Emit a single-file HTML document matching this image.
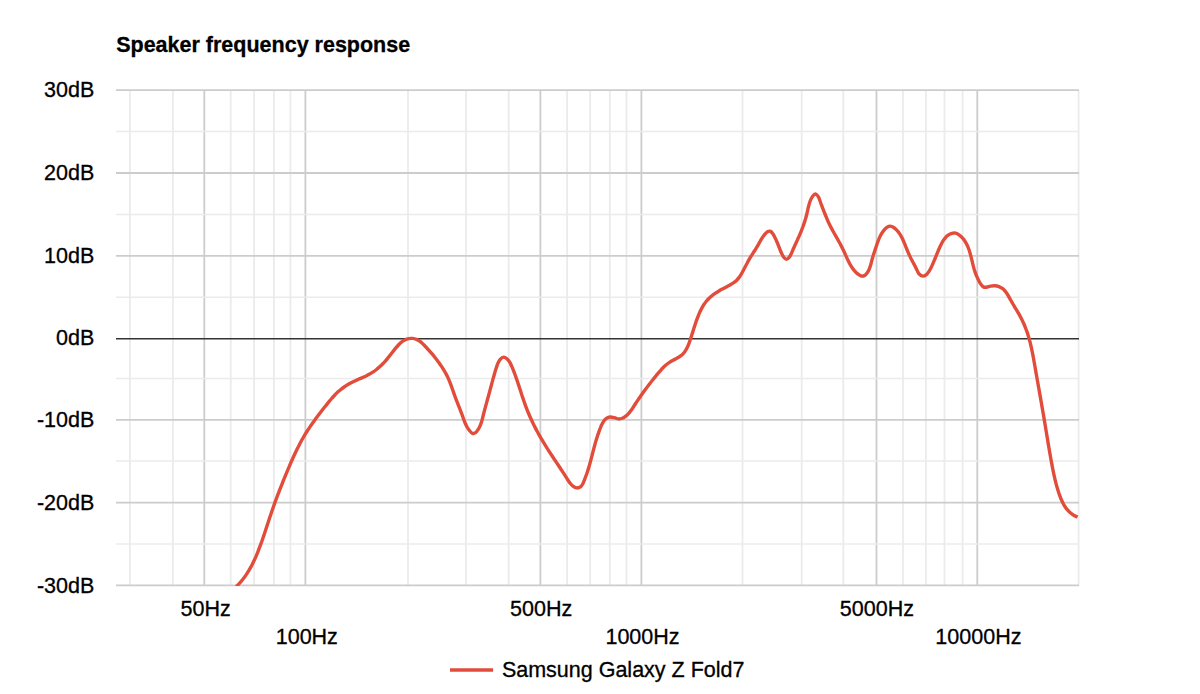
<!DOCTYPE html>
<html><head><meta charset="utf-8"><title>Speaker frequency response</title>
<style>html,body{margin:0;padding:0;background:#fff}body{width:1200px;height:694px;overflow:hidden}svg{display:block}text{font-family:"Liberation Sans",sans-serif;fill:#000;stroke:#000;stroke-width:0.3px}</style></head><body>
<svg width="1200" height="694" viewBox="0 0 1200 694">
<rect width="1200" height="694" fill="#ffffff"/>
<defs><clipPath id="cp"><rect x="115.0" y="89.1" width="964.6" height="496.9"/></clipPath></defs>
<g><line x1="129.90" y1="90.10" x2="129.90" y2="585.40" stroke="#ebebeb" stroke-width="1.80"/>
<line x1="172.90" y1="90.10" x2="172.90" y2="585.40" stroke="#ebebeb" stroke-width="1.80"/>
<line x1="230.70" y1="90.10" x2="230.70" y2="585.40" stroke="#ebebeb" stroke-width="1.80"/>
<line x1="254.10" y1="90.10" x2="254.10" y2="585.40" stroke="#ebebeb" stroke-width="1.80"/>
<line x1="273.90" y1="90.10" x2="273.90" y2="585.40" stroke="#ebebeb" stroke-width="1.80"/>
<line x1="290.40" y1="90.10" x2="290.40" y2="585.40" stroke="#ebebeb" stroke-width="1.80"/>
<line x1="408.00" y1="90.10" x2="408.00" y2="585.40" stroke="#ebebeb" stroke-width="1.80"/>
<line x1="466.00" y1="90.10" x2="466.00" y2="585.40" stroke="#ebebeb" stroke-width="1.80"/>
<line x1="508.70" y1="90.10" x2="508.70" y2="585.40" stroke="#ebebeb" stroke-width="1.80"/>
<line x1="567.10" y1="90.10" x2="567.10" y2="585.40" stroke="#ebebeb" stroke-width="1.80"/>
<line x1="590.20" y1="90.10" x2="590.20" y2="585.40" stroke="#ebebeb" stroke-width="1.80"/>
<line x1="609.80" y1="90.10" x2="609.80" y2="585.40" stroke="#ebebeb" stroke-width="1.80"/>
<line x1="626.50" y1="90.10" x2="626.50" y2="585.40" stroke="#ebebeb" stroke-width="1.80"/>
<line x1="742.50" y1="90.10" x2="742.50" y2="585.40" stroke="#ebebeb" stroke-width="1.80"/>
<line x1="801.70" y1="90.10" x2="801.70" y2="585.40" stroke="#ebebeb" stroke-width="1.80"/>
<line x1="843.30" y1="90.10" x2="843.30" y2="585.40" stroke="#ebebeb" stroke-width="1.80"/>
<line x1="903.00" y1="90.10" x2="903.00" y2="585.40" stroke="#ebebeb" stroke-width="1.80"/>
<line x1="925.90" y1="90.10" x2="925.90" y2="585.40" stroke="#ebebeb" stroke-width="1.80"/>
<line x1="944.50" y1="90.10" x2="944.50" y2="585.40" stroke="#ebebeb" stroke-width="1.80"/>
<line x1="962.60" y1="90.10" x2="962.60" y2="585.40" stroke="#ebebeb" stroke-width="1.80"/>
<line x1="1078.60" y1="90.10" x2="1078.60" y2="585.40" stroke="#ebebeb" stroke-width="1.80"/>
<line x1="204.30" y1="90.10" x2="204.30" y2="585.40" stroke="#cccccc" stroke-width="1.80"/>
<line x1="305.40" y1="90.10" x2="305.40" y2="585.40" stroke="#cccccc" stroke-width="1.80"/>
<line x1="540.40" y1="90.10" x2="540.40" y2="585.40" stroke="#cccccc" stroke-width="1.80"/>
<line x1="641.40" y1="90.10" x2="641.40" y2="585.40" stroke="#cccccc" stroke-width="1.80"/>
<line x1="876.50" y1="90.10" x2="876.50" y2="585.40" stroke="#cccccc" stroke-width="1.80"/>
<line x1="977.30" y1="90.10" x2="977.30" y2="585.40" stroke="#cccccc" stroke-width="1.80"/>
<line x1="116.00" y1="90.10" x2="1079.00" y2="90.10" stroke="#cccccc" stroke-width="1.80"/>
<line x1="116.00" y1="173.00" x2="1079.00" y2="173.00" stroke="#cccccc" stroke-width="1.80"/>
<line x1="116.00" y1="255.90" x2="1079.00" y2="255.90" stroke="#cccccc" stroke-width="1.80"/>
<line x1="116.00" y1="419.90" x2="1079.00" y2="419.90" stroke="#cccccc" stroke-width="1.80"/>
<line x1="116.00" y1="502.60" x2="1079.00" y2="502.60" stroke="#cccccc" stroke-width="1.80"/>
<line x1="116.00" y1="585.40" x2="1079.00" y2="585.40" stroke="#cccccc" stroke-width="1.80"/>
<line x1="116.00" y1="131.60" x2="1079.00" y2="131.60" stroke="#ebebeb" stroke-width="1.50"/>
<line x1="116.00" y1="214.50" x2="1079.00" y2="214.50" stroke="#ebebeb" stroke-width="1.50"/>
<line x1="116.00" y1="297.30" x2="1079.00" y2="297.30" stroke="#ebebeb" stroke-width="1.50"/>
<line x1="116.00" y1="378.45" x2="1079.00" y2="378.45" stroke="#ebebeb" stroke-width="1.50"/>
<line x1="116.00" y1="461.10" x2="1079.00" y2="461.10" stroke="#ebebeb" stroke-width="1.50"/>
<line x1="116.00" y1="543.90" x2="1079.00" y2="543.90" stroke="#ebebeb" stroke-width="1.50"/>
<line x1="116.00" y1="338.80" x2="1079.00" y2="338.80" stroke="#333333" stroke-width="1.60"/></g>
<g clip-path="url(#cp)"><path d="M236.24,586.59C236.73,586.09 238.23,584.63 239.17,583.62C240.12,582.60 241.02,581.56 241.89,580.50C242.77,579.44 243.60,578.36 244.41,577.26C245.22,576.16 246.00,575.04 246.75,573.91C247.50,572.77 248.22,571.62 248.92,570.45C249.62,569.28 250.29,568.10 250.94,566.90C251.59,565.70 252.21,564.49 252.82,563.27C253.43,562.05 254.01,560.81 254.58,559.57C255.15,558.33 255.70,557.07 256.24,555.82C256.77,554.56 257.29,553.29 257.80,552.02C258.31,550.74 258.81,549.46 259.29,548.18C259.78,546.90 260.26,545.62 260.72,544.33C261.19,543.04 261.65,541.75 262.11,540.46C262.56,539.17 263.00,537.87 263.45,536.58C263.89,535.28 264.32,533.98 264.76,532.69C265.19,531.39 265.62,530.09 266.05,528.79C266.48,527.49 266.90,526.19 267.33,524.89C267.75,523.59 268.18,522.29 268.60,520.99C269.03,519.69 269.46,518.39 269.89,517.09C270.32,515.79 270.75,514.50 271.19,513.20C271.63,511.91 272.07,510.62 272.52,509.33C272.97,508.04 273.42,506.75 273.88,505.46C274.34,504.18 274.80,502.89 275.27,501.61C275.74,500.33 276.21,499.05 276.69,497.77C277.16,496.49 277.65,495.21 278.13,493.94C278.62,492.66 279.11,491.39 279.60,490.11C280.10,488.84 280.60,487.57 281.10,486.30C281.60,485.03 282.11,483.76 282.62,482.49C283.13,481.22 283.64,479.95 284.16,478.68C284.67,477.42 285.19,476.15 285.72,474.89C286.24,473.62 286.76,472.35 287.29,471.09C287.82,469.82 288.35,468.56 288.89,467.30C289.42,466.03 289.96,464.77 290.51,463.51C291.05,462.26 291.60,461.00 292.16,459.75C292.72,458.49 293.28,457.24 293.85,456.00C294.43,454.75 295.01,453.51 295.59,452.27C296.18,451.04 296.78,449.80 297.39,448.58C298.00,447.35 298.61,446.13 299.24,444.92C299.87,443.71 300.51,442.50 301.16,441.31C301.82,440.11 302.48,438.92 303.16,437.74C303.84,436.55 304.53,435.38 305.24,434.22C305.95,433.05 306.67,431.90 307.41,430.76C308.14,429.61 308.89,428.47 309.65,427.34C310.41,426.21 311.19,425.09 311.97,423.98C312.75,422.86 313.55,421.75 314.35,420.65C315.15,419.55 315.96,418.45 316.78,417.35C317.60,416.26 318.43,415.17 319.26,414.08C320.09,412.99 320.93,411.91 321.77,410.83C322.61,409.74 323.46,408.66 324.30,407.58C325.15,406.51 326.00,405.42 326.85,404.35C327.71,403.27 328.57,402.20 329.44,401.14C330.31,400.08 331.19,399.03 332.09,398.00C333.00,396.98 333.91,395.96 334.86,394.98C335.80,394.00 336.77,393.04 337.77,392.12C338.77,391.20 339.80,390.31 340.86,389.46C341.92,388.61 343.01,387.79 344.13,387.01C345.24,386.23 346.39,385.49 347.55,384.78C348.72,384.07 349.92,383.40 351.12,382.77C352.33,382.13 353.57,381.54 354.81,380.95C356.05,380.37 357.32,379.83 358.57,379.27C359.83,378.72 361.10,378.19 362.35,377.63C363.60,377.07 364.85,376.51 366.08,375.91C367.31,375.31 368.54,374.70 369.73,374.03C370.91,373.36 372.08,372.66 373.22,371.90C374.35,371.14 375.46,370.33 376.53,369.49C377.61,368.65 378.65,367.76 379.66,366.85C380.67,365.94 381.65,364.99 382.60,364.02C383.54,363.05 384.45,362.05 385.34,361.03C386.23,360.02 387.08,358.97 387.94,357.92C388.79,356.87 389.63,355.80 390.47,354.73C391.32,353.65 392.16,352.56 393.02,351.47C393.88,350.39 394.74,349.28 395.64,348.20C396.54,347.12 397.45,346.01 398.42,345.00C399.39,343.99 400.38,342.99 401.45,342.14C402.51,341.29 403.62,340.51 404.82,339.92C406.01,339.33 407.31,338.87 408.61,338.61C409.92,338.36 411.33,338.28 412.65,338.42C413.97,338.55 415.31,338.89 416.53,339.41C417.76,339.92 418.91,340.67 420.02,341.48C421.14,342.29 422.18,343.28 423.20,344.24C424.22,345.21 425.20,346.27 426.16,347.28C427.12,348.30 428.06,349.31 428.98,350.33C429.90,351.35 430.79,352.37 431.67,353.39C432.55,354.42 433.41,355.45 434.26,356.50C435.11,357.55 435.94,358.60 436.76,359.68C437.58,360.75 438.39,361.84 439.18,362.95C439.97,364.06 440.75,365.19 441.51,366.33C442.27,367.48 443.01,368.64 443.73,369.82C444.44,371.00 445.13,372.19 445.78,373.40C446.44,374.61 447.06,375.84 447.65,377.07C448.23,378.31 448.78,379.56 449.30,380.82C449.83,382.08 450.31,383.36 450.80,384.64C451.28,385.91 451.73,387.20 452.19,388.49C452.65,389.77 453.09,391.07 453.54,392.36C454.00,393.65 454.45,394.94 454.92,396.23C455.39,397.51 455.87,398.79 456.36,400.07C456.85,401.35 457.35,402.63 457.86,403.91C458.36,405.18 458.87,406.46 459.37,407.73C459.87,409.01 460.38,410.28 460.87,411.55C461.35,412.83 461.84,414.11 462.31,415.39C462.78,416.67 463.21,417.96 463.68,419.23C464.15,420.51 464.59,421.79 465.13,423.04C465.67,424.29 466.22,425.54 466.90,426.74C467.59,427.95 468.34,429.17 469.24,430.26C470.15,431.35 471.27,432.89 472.33,433.28C473.39,433.68 474.61,433.30 475.60,432.63C476.59,431.96 477.50,430.44 478.26,429.27C479.03,428.09 479.63,426.85 480.18,425.59C480.73,424.33 481.16,423.03 481.57,421.73C481.98,420.42 482.30,419.08 482.65,417.76C482.99,416.43 483.30,415.09 483.64,413.76C483.97,412.43 484.32,411.11 484.67,409.78C485.02,408.46 485.37,407.14 485.73,405.82C486.09,404.50 486.46,403.19 486.82,401.87C487.18,400.55 487.55,399.24 487.92,397.92C488.28,396.61 488.65,395.29 489.01,393.97C489.37,392.65 489.73,391.34 490.09,390.02C490.44,388.69 490.79,387.37 491.14,386.05C491.49,384.72 491.84,383.40 492.19,382.08C492.54,380.75 492.89,379.43 493.25,378.11C493.61,376.79 493.97,375.47 494.35,374.16C494.73,372.84 495.12,371.53 495.52,370.23C495.92,368.92 496.32,367.62 496.78,366.33C497.23,365.04 497.63,363.74 498.26,362.50C498.90,361.27 499.64,359.82 500.59,358.92C501.54,358.02 502.83,357.05 503.98,357.11C505.14,357.17 506.50,358.33 507.50,359.27C508.50,360.20 509.29,361.52 510.00,362.72C510.70,363.91 511.20,365.16 511.75,366.41C512.30,367.65 512.81,368.91 513.32,370.17C513.83,371.44 514.31,372.71 514.79,373.99C515.27,375.26 515.73,376.55 516.18,377.84C516.64,379.12 517.08,380.42 517.52,381.71C517.95,383.01 518.38,384.31 518.81,385.61C519.24,386.91 519.66,388.22 520.08,389.52C520.50,390.82 520.92,392.13 521.35,393.43C521.77,394.73 522.19,396.04 522.63,397.34C523.06,398.64 523.50,399.94 523.95,401.23C524.39,402.53 524.85,403.82 525.32,405.10C525.79,406.39 526.26,407.67 526.76,408.94C527.26,410.22 527.77,411.49 528.29,412.75C528.81,414.01 529.35,415.27 529.90,416.52C530.45,417.77 531.02,419.01 531.59,420.25C532.17,421.49 532.76,422.72 533.36,423.95C533.96,425.17 534.58,426.39 535.20,427.61C535.83,428.83 536.46,430.04 537.11,431.24C537.76,432.44 538.41,433.64 539.08,434.84C539.75,436.03 540.43,437.22 541.11,438.40C541.80,439.59 542.50,440.76 543.20,441.94C543.90,443.11 544.62,444.28 545.34,445.44C546.06,446.60 546.79,447.76 547.53,448.92C548.26,450.07 549.01,451.22 549.76,452.37C550.50,453.51 551.26,454.65 552.01,455.80C552.77,456.94 553.53,458.07 554.29,459.21C555.05,460.35 555.81,461.49 556.57,462.62C557.33,463.76 558.09,464.90 558.85,466.03C559.61,467.17 560.37,468.31 561.12,469.45C561.87,470.59 562.62,471.73 563.36,472.88C564.10,474.02 564.83,475.17 565.56,476.33C566.29,477.48 566.98,478.65 567.73,479.79C568.48,480.93 569.21,482.09 570.08,483.17C570.96,484.24 571.88,485.42 572.98,486.22C574.08,487.01 575.41,487.82 576.66,487.91C577.92,488.01 579.45,487.52 580.50,486.79C581.55,486.06 582.27,484.72 582.95,483.52C583.62,482.32 584.04,480.90 584.55,479.61C585.06,478.32 585.54,477.05 586.01,475.78C586.47,474.50 586.92,473.24 587.35,471.96C587.79,470.67 588.20,469.38 588.59,468.07C588.99,466.77 589.37,465.45 589.74,464.13C590.12,462.80 590.47,461.47 590.83,460.14C591.18,458.81 591.53,457.47 591.87,456.14C592.22,454.81 592.56,453.47 592.90,452.15C593.25,450.82 593.59,449.49 593.94,448.18C594.29,446.86 594.64,445.55 595.00,444.24C595.37,442.94 595.74,441.64 596.13,440.34C596.51,439.04 596.91,437.75 597.33,436.46C597.75,435.16 598.18,433.87 598.64,432.58C599.10,431.29 599.57,430.00 600.08,428.70C600.59,427.41 601.09,426.07 601.69,424.82C602.29,423.57 602.88,422.27 603.66,421.21C604.45,420.14 605.30,419.12 606.38,418.43C607.47,417.74 608.85,417.18 610.18,417.06C611.52,416.94 613.04,417.39 614.42,417.70C615.79,418.01 617.12,418.82 618.43,418.91C619.74,419.01 621.06,418.73 622.28,418.28C623.50,417.82 624.70,417.00 625.77,416.19C626.84,415.37 627.81,414.38 628.72,413.38C629.64,412.38 630.44,411.28 631.25,410.18C632.05,409.08 632.78,407.90 633.54,406.76C634.29,405.61 635.03,404.44 635.78,403.29C636.53,402.13 637.30,400.99 638.06,399.85C638.83,398.71 639.61,397.58 640.39,396.46C641.17,395.33 641.96,394.21 642.76,393.10C643.55,391.99 644.36,390.88 645.17,389.78C645.98,388.68 646.79,387.58 647.62,386.49C648.44,385.40 649.27,384.31 650.11,383.23C650.94,382.15 651.79,381.08 652.64,380.01C653.48,378.94 654.34,377.88 655.20,376.82C656.06,375.76 656.93,374.70 657.81,373.65C658.68,372.61 659.56,371.56 660.47,370.54C661.38,369.52 662.29,368.51 663.25,367.56C664.21,366.60 665.20,365.67 666.24,364.80C667.28,363.93 668.36,363.11 669.50,362.35C670.64,361.60 671.87,360.94 673.08,360.27C674.29,359.60 675.57,359.01 676.77,358.33C677.96,357.65 679.17,356.99 680.25,356.19C681.32,355.39 682.33,354.52 683.23,353.54C684.12,352.56 684.91,351.46 685.63,350.32C686.36,349.17 686.98,347.93 687.58,346.68C688.17,345.42 688.68,344.09 689.18,342.78C689.68,341.46 690.13,340.11 690.57,338.79C691.02,337.47 691.43,336.15 691.85,334.85C692.27,333.54 692.67,332.25 693.08,330.96C693.49,329.67 693.89,328.39 694.30,327.11C694.71,325.82 695.12,324.55 695.56,323.27C695.99,321.99 696.43,320.71 696.89,319.42C697.36,318.14 697.84,316.85 698.35,315.57C698.87,314.30 699.40,313.02 699.98,311.77C700.56,310.52 701.17,309.28 701.82,308.08C702.48,306.87 703.17,305.69 703.92,304.56C704.67,303.42 705.47,302.32 706.33,301.28C707.18,300.24 708.10,299.24 709.07,298.30C710.04,297.36 711.07,296.48 712.14,295.63C713.21,294.78 714.33,293.98 715.47,293.21C716.61,292.44 717.79,291.71 718.98,290.99C720.17,290.27 721.39,289.59 722.60,288.91C723.82,288.24 725.05,287.59 726.27,286.93C727.49,286.27 728.72,285.65 729.90,284.98C731.09,284.30 732.27,283.65 733.38,282.89C734.48,282.13 735.55,281.34 736.51,280.42C737.48,279.50 738.35,278.46 739.17,277.37C739.99,276.27 740.72,275.07 741.43,273.87C742.14,272.67 742.78,271.40 743.43,270.17C744.08,268.95 744.70,267.72 745.34,266.52C745.97,265.31 746.59,264.13 747.23,262.95C747.88,261.77 748.52,260.61 749.19,259.44C749.87,258.26 750.56,257.10 751.28,255.92C752.00,254.74 752.76,253.56 753.51,252.38C754.26,251.20 755.04,250.01 755.77,248.84C756.50,247.67 757.22,246.51 757.89,245.36C758.56,244.21 759.14,243.10 759.80,241.96C760.45,240.81 761.05,239.69 761.81,238.51C762.57,237.33 763.41,235.99 764.36,234.86C765.31,233.73 766.46,232.32 767.49,231.74C768.53,231.17 769.63,230.96 770.57,231.39C771.52,231.81 772.39,233.13 773.18,234.28C773.96,235.44 774.65,237.01 775.29,238.30C775.92,239.59 776.45,240.80 776.98,242.03C777.51,243.25 777.96,244.40 778.45,245.63C778.94,246.87 779.40,248.14 779.93,249.43C780.45,250.72 780.97,252.09 781.60,253.37C782.22,254.65 782.87,256.11 783.66,257.10C784.46,258.10 785.41,259.38 786.35,259.37C787.30,259.36 788.49,258.04 789.33,257.06C790.17,256.07 790.79,254.73 791.40,253.47C792.02,252.22 792.49,250.83 793.04,249.54C793.59,248.25 794.14,246.97 794.71,245.72C795.27,244.46 795.85,243.24 796.43,242.01C797.00,240.78 797.57,239.56 798.13,238.33C798.69,237.09 799.24,235.85 799.77,234.60C800.31,233.35 800.83,232.09 801.34,230.83C801.84,229.56 802.33,228.29 802.81,227.01C803.28,225.72 803.73,224.43 804.17,223.13C804.60,221.84 805.02,220.53 805.41,219.21C805.80,217.90 806.17,216.57 806.52,215.24C806.86,213.90 807.17,212.56 807.48,211.21C807.78,209.86 808.04,208.50 808.37,207.16C808.70,205.83 809.01,204.49 809.43,203.19C809.85,201.89 810.29,200.60 810.88,199.37C811.47,198.14 812.14,196.68 812.98,195.80C813.81,194.92 814.94,193.88 815.87,194.10C816.80,194.32 817.84,195.93 818.55,197.12C819.26,198.31 819.63,199.89 820.13,201.23C820.63,202.57 821.07,203.89 821.55,205.17C822.02,206.46 822.49,207.70 822.97,208.95C823.45,210.20 823.93,211.45 824.43,212.70C824.93,213.95 825.43,215.21 825.95,216.46C826.47,217.71 827.00,218.96 827.55,220.21C828.11,221.45 828.68,222.69 829.27,223.93C829.86,225.16 830.49,226.38 831.12,227.60C831.75,228.81 832.41,230.02 833.07,231.23C833.73,232.43 834.41,233.63 835.09,234.83C835.76,236.03 836.44,237.22 837.12,238.42C837.79,239.62 838.47,240.81 839.13,242.01C839.80,243.22 840.45,244.42 841.09,245.63C841.72,246.84 842.35,248.05 842.94,249.27C843.54,250.49 844.10,251.73 844.66,252.96C845.22,254.19 845.74,255.44 846.30,256.67C846.85,257.90 847.39,259.14 847.98,260.36C848.57,261.58 849.17,262.79 849.84,263.98C850.51,265.17 851.21,266.34 852.00,267.48C852.79,268.62 853.63,269.75 854.59,270.82C855.54,271.90 856.61,273.07 857.72,273.93C858.83,274.79 860.09,275.75 861.24,276.00C862.39,276.25 863.60,276.02 864.63,275.43C865.66,274.83 866.64,273.54 867.44,272.43C868.23,271.31 868.85,270.00 869.39,268.74C869.93,267.48 870.31,266.17 870.70,264.86C871.09,263.56 871.37,262.22 871.72,260.89C872.07,259.57 872.41,258.23 872.80,256.91C873.18,255.59 873.61,254.28 874.03,252.97C874.45,251.66 874.90,250.36 875.34,249.07C875.77,247.78 876.20,246.49 876.64,245.21C877.08,243.93 877.49,242.66 877.96,241.40C878.44,240.14 878.92,238.89 879.49,237.65C880.06,236.41 880.66,235.17 881.39,233.96C882.11,232.74 882.93,231.45 883.84,230.36C884.75,229.26 885.78,228.08 886.84,227.38C887.91,226.68 889.07,226.16 890.22,226.17C891.37,226.19 892.61,226.77 893.74,227.48C894.88,228.18 896.03,229.36 897.02,230.42C898.01,231.48 898.90,232.69 899.69,233.85C900.49,235.01 901.14,236.19 901.77,237.38C902.40,238.57 902.93,239.77 903.46,240.99C904.00,242.21 904.48,243.45 904.99,244.70C905.50,245.94 906.00,247.22 906.53,248.49C907.05,249.76 907.59,251.04 908.14,252.31C908.70,253.59 909.26,254.86 909.85,256.12C910.43,257.37 911.03,258.62 911.65,259.84C912.27,261.05 912.92,262.23 913.56,263.41C914.20,264.60 914.87,265.73 915.50,266.95C916.12,268.17 916.64,269.51 917.29,270.74C917.95,271.97 918.52,273.43 919.45,274.33C920.37,275.24 921.67,276.13 922.83,276.17C923.98,276.21 925.35,275.41 926.39,274.58C927.44,273.74 928.31,272.34 929.10,271.17C929.90,269.99 930.52,268.74 931.14,267.52C931.75,266.30 932.27,265.09 932.81,263.85C933.35,262.62 933.87,261.37 934.39,260.12C934.91,258.86 935.42,257.60 935.94,256.33C936.46,255.07 936.98,253.79 937.51,252.53C938.04,251.26 938.57,249.99 939.13,248.73C939.68,247.47 940.23,246.21 940.83,244.98C941.44,243.75 942.04,242.51 942.75,241.35C943.46,240.20 944.21,239.06 945.11,238.03C946.01,237.00 947.03,235.99 948.15,235.19C949.28,234.40 950.60,233.61 951.86,233.27C953.12,232.94 954.47,232.89 955.72,233.19C956.96,233.48 958.19,234.26 959.31,235.05C960.42,235.85 961.47,236.92 962.41,237.95C963.35,238.98 964.18,240.09 964.93,241.22C965.69,242.36 966.35,243.55 966.95,244.76C967.56,245.98 968.08,247.23 968.56,248.51C969.05,249.78 969.47,251.09 969.87,252.41C970.27,253.72 970.61,255.06 970.96,256.40C971.30,257.74 971.61,259.09 971.93,260.43C972.25,261.77 972.55,263.11 972.88,264.43C973.21,265.75 973.54,267.06 973.91,268.35C974.28,269.64 974.66,270.91 975.10,272.17C975.54,273.44 976.01,274.69 976.54,275.95C977.07,277.21 977.64,278.47 978.29,279.75C978.94,281.03 979.63,282.46 980.43,283.62C981.23,284.78 982.09,286.10 983.10,286.71C984.10,287.32 985.22,287.37 986.45,287.28C987.69,287.19 989.08,286.41 990.49,286.16C991.89,285.91 993.46,285.71 994.88,285.78C996.29,285.85 997.72,286.13 998.97,286.57C1000.22,287.02 1001.33,287.69 1002.36,288.46C1003.39,289.23 1004.29,290.19 1005.15,291.20C1006.01,292.21 1006.78,293.36 1007.52,294.52C1008.27,295.69 1008.95,296.95 1009.64,298.17C1010.34,299.40 1011.00,300.66 1011.68,301.88C1012.37,303.09 1013.07,304.27 1013.76,305.45C1014.46,306.62 1015.16,307.77 1015.86,308.93C1016.55,310.09 1017.25,311.23 1017.93,312.40C1018.61,313.56 1019.28,314.73 1019.93,315.92C1020.57,317.12 1021.21,318.33 1021.82,319.55C1022.43,320.78 1023.02,322.02 1023.58,323.26C1024.15,324.51 1024.69,325.78 1025.20,327.04C1025.71,328.31 1026.19,329.59 1026.65,330.88C1027.11,332.16 1027.54,333.46 1027.95,334.76C1028.36,336.06 1028.75,337.37 1029.12,338.68C1029.49,340.00 1029.84,341.32 1030.18,342.64C1030.51,343.97 1030.83,345.30 1031.13,346.63C1031.44,347.96 1031.72,349.30 1032.00,350.64C1032.28,351.98 1032.55,353.33 1032.81,354.67C1033.07,356.02 1033.32,357.37 1033.57,358.72C1033.82,360.07 1034.05,361.42 1034.29,362.77C1034.53,364.12 1034.77,365.47 1035.00,366.82C1035.24,368.18 1035.47,369.53 1035.71,370.88C1035.95,372.23 1036.18,373.57 1036.42,374.92C1036.66,376.27 1036.90,377.62 1037.13,378.96C1037.37,380.31 1037.61,381.66 1037.85,383.00C1038.09,384.35 1038.32,385.70 1038.56,387.04C1038.80,388.39 1039.04,389.73 1039.28,391.08C1039.52,392.42 1039.75,393.77 1039.99,395.11C1040.23,396.46 1040.47,397.80 1040.70,399.15C1040.94,400.49 1041.17,401.83 1041.41,403.18C1041.65,404.52 1041.88,405.87 1042.11,407.22C1042.35,408.56 1042.58,409.91 1042.81,411.25C1043.05,412.60 1043.28,413.95 1043.51,415.29C1043.74,416.64 1043.97,417.99 1044.20,419.34C1044.42,420.68 1044.65,422.03 1044.87,423.38C1045.10,424.73 1045.32,426.08 1045.55,427.43C1045.77,428.78 1045.99,430.13 1046.22,431.49C1046.44,432.84 1046.66,434.19 1046.88,435.54C1047.11,436.89 1047.33,438.24 1047.55,439.59C1047.78,440.95 1048.00,442.30 1048.23,443.65C1048.45,445.00 1048.68,446.35 1048.91,447.70C1049.14,449.05 1049.37,450.40 1049.60,451.75C1049.84,453.10 1050.07,454.45 1050.31,455.79C1050.55,457.14 1050.79,458.48 1051.03,459.83C1051.28,461.17 1051.52,462.52 1051.78,463.86C1052.03,465.20 1052.28,466.54 1052.54,467.88C1052.80,469.22 1053.07,470.56 1053.34,471.89C1053.62,473.23 1053.90,474.56 1054.20,475.90C1054.49,477.23 1054.79,478.56 1055.11,479.88C1055.43,481.21 1055.76,482.54 1056.11,483.86C1056.46,485.18 1056.82,486.50 1057.21,487.82C1057.59,489.13 1057.99,490.45 1058.42,491.76C1058.84,493.07 1059.28,494.38 1059.76,495.68C1060.23,496.97 1060.73,498.27 1061.27,499.53C1061.82,500.79 1062.39,502.04 1063.03,503.25C1063.66,504.45 1064.34,505.63 1065.08,506.75C1065.83,507.87 1066.62,508.95 1067.50,509.96C1068.38,510.97 1069.32,511.93 1070.36,512.81C1071.39,513.68 1072.49,514.50 1073.70,515.21C1074.91,515.93 1076.96,516.79 1077.61,517.11" fill="none" stroke="#e24d3b" stroke-width="3.4" stroke-linejoin="round" stroke-linecap="butt"/></g>
<text x="116.2" y="51.6" font-size="21.5" font-weight="bold">Speaker frequency response</text>
<text x="94.3" y="97.20" font-size="21.5" text-anchor="end">30dB</text>
<text x="94.3" y="180.10" font-size="21.5" text-anchor="end">20dB</text>
<text x="94.3" y="263.00" font-size="21.5" text-anchor="end">10dB</text>
<text x="94.3" y="345.10" font-size="21.5" text-anchor="end">0dB</text>
<text x="94.3" y="427.00" font-size="21.5" text-anchor="end">-10dB</text>
<text x="94.3" y="509.70" font-size="21.5" text-anchor="end">-20dB</text>
<text x="94.3" y="592.50" font-size="21.5" text-anchor="end">-30dB</text>
<text x="205.60" y="615.90" font-size="21.5" text-anchor="middle">50Hz</text>
<text x="306.80" y="643.90" font-size="21.5" text-anchor="middle">100Hz</text>
<text x="541.10" y="615.80" font-size="21.5" text-anchor="middle">500Hz</text>
<text x="642.50" y="643.90" font-size="21.5" text-anchor="middle">1000Hz</text>
<text x="876.90" y="615.80" font-size="21.5" text-anchor="middle">5000Hz</text>
<text x="978.40" y="643.90" font-size="21.5" text-anchor="middle">10000Hz</text>
<line x1="450" y1="670" x2="493.1" y2="670" stroke="#e24d3b" stroke-width="3.6"/>
<text x="501.9" y="676.6" font-size="21.5">Samsung Galaxy Z Fold7</text>
</svg></body></html>
